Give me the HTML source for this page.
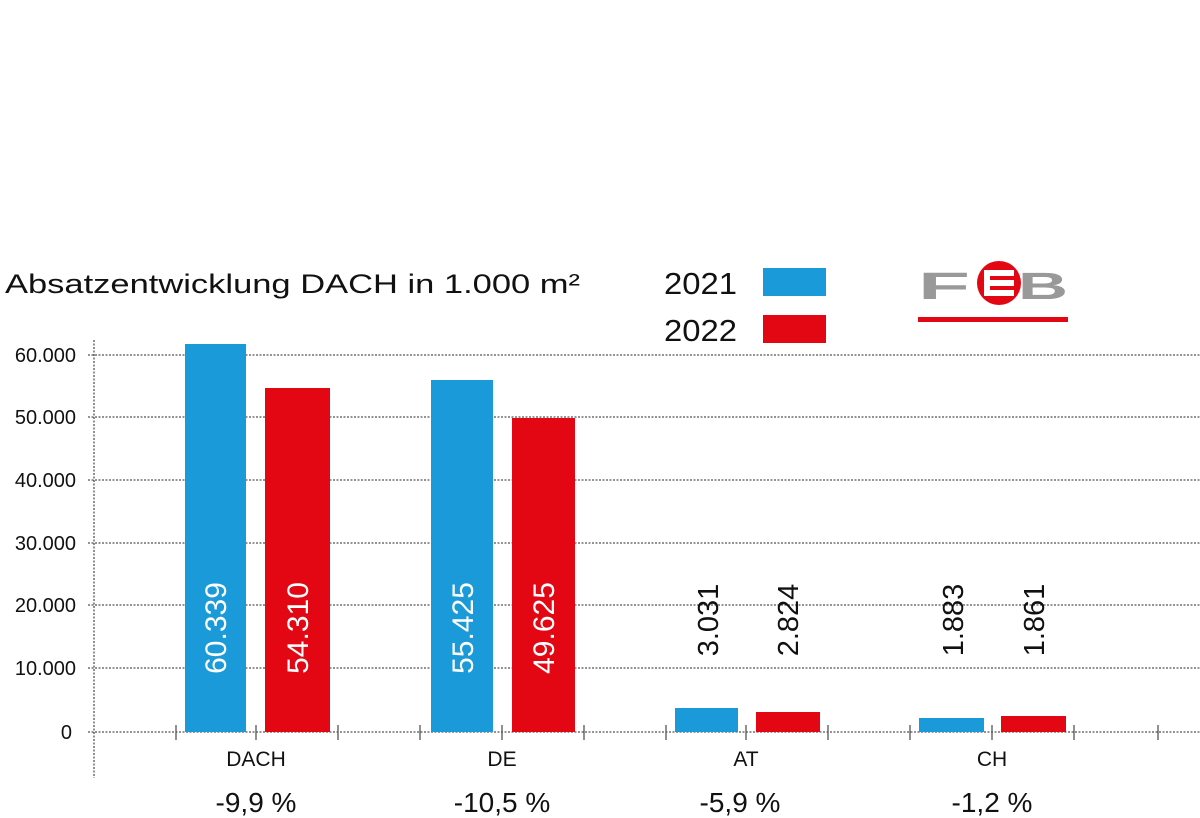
<!DOCTYPE html>
<html><head><meta charset="utf-8"><style>
html,body{margin:0;padding:0;background:#fff;}
svg{display:block;font-family:"Liberation Sans",sans-serif;}
</style></head><body>
<svg width="1200" height="818" viewBox="0 0 1200 818" xmlns="http://www.w3.org/2000/svg">
<rect width="1200" height="818" fill="#fff"/>
<text x="5" y="293" font-size="27" fill="#111" textLength="575" lengthAdjust="spacingAndGlyphs">Absatzentwicklung DACH in 1.000 m²</text>
<text x="664" y="294" font-size="31" fill="#111" textLength="73" lengthAdjust="spacingAndGlyphs">2021</text>
<rect x="763" y="268" width="63" height="28" fill="#1a9ad9"/>
<text x="664" y="341" font-size="31" fill="#111" textLength="73" lengthAdjust="spacingAndGlyphs">2022</text>
<rect x="763" y="315" width="63" height="28" fill="#e30613"/>
<!-- logo -->
<text x="918" y="299" font-size="38" font-weight="bold" fill="#999" textLength="52" lengthAdjust="spacingAndGlyphs">F</text>
<circle cx="999" cy="283" r="22" fill="#e30613"/>
<rect x="984" y="270" width="30" height="26" fill="#fff"/>
<rect x="990" y="276" width="24" height="4" fill="#e30613"/>
<rect x="990" y="286" width="24" height="4" fill="#e30613"/>
<text x="1018" y="299" font-size="38" font-weight="bold" fill="#999" textLength="50" lengthAdjust="spacingAndGlyphs">B</text>
<rect x="918" y="317" width="150" height="5" fill="#e30613"/>
<!-- grid -->
<g stroke="#555" stroke-width="1.3" stroke-dasharray="2,1.5">
<line x1="88" y1="355" x2="1200" y2="355"/>
<line x1="88" y1="417" x2="1200" y2="417"/>
<line x1="88" y1="480" x2="1200" y2="480"/>
<line x1="88" y1="543" x2="1200" y2="543"/>
<line x1="88" y1="605" x2="1200" y2="605"/>
<line x1="88" y1="668" x2="1200" y2="668"/>
<line x1="88" y1="732" x2="1200" y2="732"/>
<line x1="94" y1="340" x2="94" y2="778"/>
</g>
<g stroke="#555" stroke-width="1.3">
<line x1="176" y1="725" x2="176" y2="740"/><line x1="256" y1="725" x2="256" y2="740"/><line x1="338" y1="725" x2="338" y2="740"/>
<line x1="420" y1="725" x2="420" y2="740"/><line x1="502" y1="725" x2="502" y2="740"/><line x1="584" y1="725" x2="584" y2="740"/>
<line x1="666" y1="725" x2="666" y2="740"/><line x1="746" y1="725" x2="746" y2="740"/><line x1="828" y1="725" x2="828" y2="740"/>
<line x1="910" y1="725" x2="910" y2="740"/><line x1="992" y1="725" x2="992" y2="740"/><line x1="1074" y1="725" x2="1074" y2="740"/>
<line x1="1158" y1="725" x2="1158" y2="740"/>
</g>
<g font-size="20" fill="#111" text-anchor="end">
<text x="76" y="362">60.000</text><text x="76" y="424">50.000</text><text x="76" y="487">40.000</text>
<text x="76" y="550">30.000</text><text x="76" y="612">20.000</text><text x="76" y="675">10.000</text><text x="72" y="739">0</text>
</g>
<!-- bars -->
<rect x="185" y="344" width="61" height="388" fill="#1a9ad9"/>
<rect x="265" y="388" width="65" height="344" fill="#e30613"/>
<rect x="431" y="380" width="62" height="352" fill="#1a9ad9"/>
<rect x="512" y="418" width="63" height="314" fill="#e30613"/>
<rect x="675" y="708" width="63" height="24" fill="#1a9ad9"/>
<rect x="756" y="712" width="64" height="20" fill="#e30613"/>
<rect x="919" y="718" width="65" height="14" fill="#1a9ad9"/>
<rect x="1001" y="716" width="65" height="16" fill="#e30613"/>
<g font-size="30" text-anchor="middle">
<text transform="translate(226,628) rotate(-90)" fill="#fff">60.339</text>
<text transform="translate(308,628) rotate(-90)" fill="#fff">54.310</text>
<text transform="translate(473,628) rotate(-90)" fill="#fff">55.425</text>
<text transform="translate(554,628) rotate(-90)" fill="#fff">49.625</text>
</g>
<g font-size="29" text-anchor="middle">
<text transform="translate(718,620) rotate(-90)" fill="#111">3.031</text>
<text transform="translate(798,620) rotate(-90)" fill="#111">2.824</text>
<text transform="translate(963,620) rotate(-90)" fill="#111">1.883</text>
<text transform="translate(1044,620) rotate(-90)" fill="#111">1.861</text>
</g>
<g font-size="21" fill="#111" text-anchor="middle">
<text x="256" y="766">DACH</text><text x="502" y="766">DE</text><text x="746" y="766">AT</text><text x="992" y="766">CH</text>
</g>
<g font-size="28" fill="#111" text-anchor="middle">
<text x="256" y="812">-9,9 %</text><text x="502" y="812">-10,5 %</text><text x="740" y="812">-5,9 %</text><text x="992" y="812">-1,2 %</text>
</g>
</svg>
</body></html>
